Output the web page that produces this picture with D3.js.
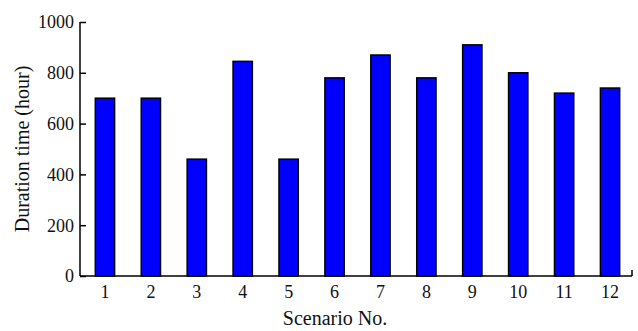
<!DOCTYPE html>
<html>
<head>
<meta charset="utf-8">
<script src="https://cdn.jsdelivr.net/npm/d3@7"></script>
<style>
  body { margin: 0; background: #fff; }
  text { font-family: "Liberation Serif", "Times New Roman", serif; fill: #111; }
</style>
</head>
<body>
<script>
const scenarios = ["1", "2", "3", "4", "5", "6", "7", "8", "9", "10", "11", "12"];
const durations = [700, 700, 460, 845, 460, 780, 870, 780, 910, 800, 720, 740];
const yTicks = [0, 200, 400, 600, 800, 1000];

const width = 638, height = 331;
const mLeft = 80, mRight = 632, mTop = 22, mBottom = 276;

const svg = d3.select("body").append("svg")
  .attr("width", width)
  .attr("height", height);

const x = d3.scaleBand()
  .domain(scenarios)
  .range([82, 633])
  .paddingInner(0.58)
  .paddingOuter(0.29);

const y = d3.scaleLinear()
  .domain([0, 1000])
  .range([mBottom, mTop]);

// bars
svg.append("g")
  .selectAll("rect")
  .data(durations)
  .enter().append("rect")
  .attr("x", (d, i) => x(scenarios[i]))
  .attr("y", d => y(d))
  .attr("width", x.bandwidth())
  .attr("height", d => mBottom - y(d))
  .attr("fill", "#0000ff")
  .attr("stroke", "#000")
  .attr("stroke-width", 1.5);

// y axis, ticks pointing inward
const yAxis = svg.append("g")
  .attr("transform", `translate(${mLeft},0)`)
  .call(d3.axisRight(y).tickValues(yTicks).tickSize(6).tickFormat(""));
yAxis.select(".domain").remove();
yAxis.selectAll("line").attr("stroke", "#000").attr("stroke-width", 1.5);

svg.append("line")
  .attr("x1", mLeft).attr("x2", mLeft)
  .attr("y1", mTop).attr("y2", mBottom)
  .attr("stroke", "#000").attr("stroke-width", 1.5);

svg.append("g")
  .selectAll("text")
  .data(yTicks)
  .enter().append("text")
  .attr("x", mLeft - 6)
  .attr("y", d => y(d) + 6.3)
  .attr("text-anchor", "end")
  .attr("font-size", 18)
  .text(d => d);

// x axis
svg.append("line")
  .attr("x1", mLeft).attr("x2", mRight)
  .attr("y1", mBottom).attr("y2", mBottom)
  .attr("stroke", "#000").attr("stroke-width", 1.5);
svg.append("line")
  .attr("x1", mRight).attr("x2", mRight)
  .attr("y1", mBottom - 6).attr("y2", mBottom)
  .attr("stroke", "#000").attr("stroke-width", 1.5);

svg.append("g")
  .selectAll("text")
  .data(scenarios)
  .enter().append("text")
  .attr("x", d => x(d) + x.bandwidth() / 2)
  .attr("y", 297.5)
  .attr("text-anchor", "middle")
  .attr("font-size", 18)
  .text(d => d);

// axis titles
svg.append("text")
  .attr("x", 335)
  .attr("y", 325)
  .attr("text-anchor", "middle")
  .attr("font-size", 20)
  .text("Scenario No.");

svg.append("text")
  .attr("transform", `translate(29,${(mTop + mBottom) / 2}) rotate(-90)`)
  .attr("text-anchor", "middle")
  .attr("font-size", 20)
  .text("Duration time (hour)");
</script>
</body>
</html>
